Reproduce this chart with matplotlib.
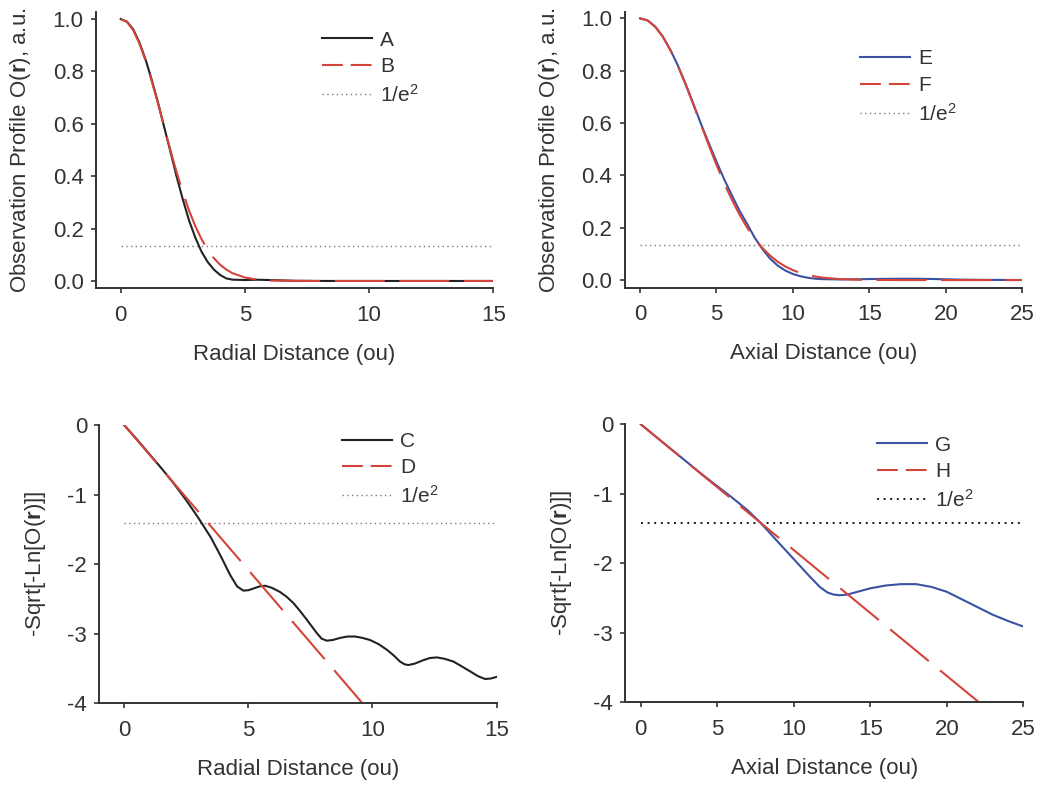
import matplotlib
matplotlib.use("Agg")
import matplotlib.pyplot as plt
from matplotlib.lines import Line2D
from matplotlib.ticker import FormatStrFormatter, MultipleLocator

plt.rcParams['font.family'] = ['Liberation Sans', 'DejaVu Sans']
plt.rcParams['mathtext.fontset'] = 'custom'
plt.rcParams['mathtext.rm'] = 'Liberation Sans'
plt.rcParams['mathtext.it'] = 'Liberation Sans:italic'
plt.rcParams['mathtext.bf'] = 'Liberation Sans:bold'
plt.rcParams['axes.unicode_minus'] = False

# radial profiles (top left)
radial_x = [0, 0.25, 0.5, 0.75, 1.0, 1.25, 1.5, 1.75, 2.0, 2.25, 2.5, 2.75, 3.0,
            3.25, 3.5, 3.75, 4.0, 4.25, 4.5, 5.0, 5.5, 6.0, 7.0, 8.0, 9.0, 10.0,
            11.0, 12.0, 13.0, 14.0, 15.0]
profile_a = [1.0, 0.990, 0.961, 0.911, 0.845, 0.767, 0.681, 0.587, 0.494, 0.398,
             0.311, 0.231, 0.166, 0.112, 0.0725, 0.0436, 0.023, 0.0098, 0.005,
             0.0036, 0.0048, 0.0035, 0.0008, 0.0001, 0.0, 0.0, 0.0, 0.0, 0.0, 0.0, 0.0]
profile_b = [1.0, 0.989, 0.958, 0.907, 0.841, 0.762, 0.677, 0.588, 0.499, 0.415,
             0.338, 0.269, 0.210, 0.160, 0.119, 0.087, 0.062, 0.0434, 0.0297,
             0.0130, 0.0052, 0.0019, 0.0002, 0.0, 0.0, 0.0, 0.0, 0.0, 0.0, 0.0, 0.0]

# axial profiles (top right)
axial_x = [0, 0.5, 1, 1.5, 2, 2.5, 3, 3.5, 4, 4.5, 5, 5.5, 6, 6.5, 7, 7.5, 8, 8.5,
           9, 9.5, 10, 10.5, 11, 11.5, 12, 13, 14, 15, 16, 17, 18, 19, 20, 21,
           22, 23, 24, 25]
profile_e = [1.0, 0.992, 0.968, 0.930, 0.878, 0.817, 0.747, 0.672, 0.595, 0.523,
             0.453, 0.386, 0.325, 0.266, 0.215, 0.162, 0.119, 0.0824, 0.0556,
             0.0364, 0.0232, 0.0144, 0.0086, 0.0050, 0.0033, 0.0024, 0.0029,
             0.0038, 0.0046, 0.0050, 0.0050, 0.0042, 0.0030, 0.0017, 0.0010,
             0.0006, 0.0003, 0.0002]
profile_f = [1.0, 0.992, 0.968, 0.929, 0.877, 0.815, 0.745, 0.669, 0.592, 0.515,
             0.441, 0.371, 0.308, 0.251, 0.201, 0.158, 0.123, 0.0938, 0.0703,
             0.0520, 0.0378, 0.0270, 0.0190, 0.0131, 0.0089, 0.0039, 0.0016,
             0.0006, 0.0002, 0.0, 0.0, 0.0, 0.0, 0.0, 0.0, 0.0, 0.0, 0.0]

# linearised radial profiles (bottom left)
curve_c_x = [0, 0.5, 1.0, 1.5, 2.0, 2.5, 3.0, 3.5, 3.9, 4.27, 4.55, 4.8, 5.0, 5.21,
             5.45, 5.68, 5.95, 6.28, 6.55, 6.82, 7.1, 7.36, 7.76, 7.95, 8.16, 8.4,
             8.7, 9.0, 9.3, 9.6, 9.9, 10.25, 10.58, 10.85, 11.11, 11.3, 11.45,
             11.7, 12.05, 12.3, 12.59, 12.9, 13.26, 13.6, 13.93, 14.25, 14.53,
             14.75, 15.0]
curve_c = [0, -0.2, -0.41, -0.62, -0.84, -1.08, -1.34, -1.62, -1.89, -2.155,
           -2.32, -2.38, -2.375, -2.35, -2.32, -2.31, -2.34, -2.40, -2.47, -2.56,
           -2.68, -2.80, -2.99, -3.07, -3.10, -3.09, -3.06, -3.04, -3.04, -3.06,
           -3.09, -3.15, -3.23, -3.31, -3.40, -3.44, -3.45, -3.43, -3.38, -3.35,
           -3.34, -3.36, -3.40, -3.47, -3.54, -3.61, -3.65, -3.645, -3.62]
line_d_x = [0, 9.6]
line_d = [0, -4.0]

# linearised axial profiles (bottom right)
curve_g_x = [0, 1, 2, 3, 4, 5, 6, 7, 7.8, 9, 10, 11, 11.7, 12.2, 12.6, 13, 13.5,
             14, 14.5, 15, 16, 17, 17.5, 18, 19, 20, 21, 22, 23, 24, 25]
curve_g = [0, -0.18, -0.36, -0.54, -0.72, -0.89, -1.06, -1.24, -1.41, -1.70,
           -1.94, -2.18, -2.34, -2.42, -2.45, -2.46, -2.45, -2.42, -2.39, -2.36,
           -2.32, -2.30, -2.30, -2.30, -2.34, -2.41, -2.52, -2.63, -2.74, -2.83,
           -2.91]
line_h_x = [0, 22.1]
line_h = [0, -4.0]

inv_e2 = 0.135        # 1/e^2 level on the profile scale
inv_e2_lin = -1.414   # same level after -sqrt(-ln(.))

BLACK = '#222222'
RED = '#d4443a'
BLUE = '#3b52a0'
GRAY = '#7a7a7a'
TXT = '#333333'

LW = 1.5
DASH = (24, 7)
DASH_KEY = (10, 3.8)
DOT = (0, (1, 2.4))
TICK_FS = 16
LABEL_FS = 16


def style_axes(ax, xlim, ylim, xmajor):
    ax.set_xlim(*xlim)
    ax.set_ylim(*ylim)
    for side in ('top', 'right'):
        ax.spines[side].set_visible(False)
    for side in ('left', 'bottom'):
        ax.spines[side].set_linewidth(1.4)
        ax.spines[side].set_color(TXT)
    ax.xaxis.set_major_locator(MultipleLocator(xmajor))
    ax.tick_params(axis='both', direction='out', length=3.8, width=1.2,
                   color=TXT, labelcolor=TXT, labelsize=TICK_FS)
    ax.tick_params(axis='x', pad=8)
    ax.tick_params(axis='y', pad=5)


def add_key(ax, solid_color, names, dot_color, dot_lw, anchor):
    handles = [
        Line2D([], [], color=solid_color, lw=LW),
        Line2D([], [], color=RED, lw=LW, dashes=DASH_KEY),
        Line2D([], [], color=dot_color, lw=dot_lw, linestyle=DOT),
    ]
    ax.legend(handles, names + ['1/e$^2$'], loc='center left',
              bbox_to_anchor=anchor, bbox_transform=ax.figure.transFigure,
              frameon=False, borderpad=0, borderaxespad=0, fontsize=15,
              handlelength=2.4, handletextpad=0.4, labelspacing=0.36,
              labelcolor=TXT)


fig = plt.figure(figsize=(10.37, 7.86), dpi=100)

ax1 = fig.add_axes([0.0925, 0.6332, 0.3832, 0.3519])
ax2 = fig.add_axes([0.6024, 0.6337, 0.3834, 0.3513])
ax3 = fig.add_axes([0.0957, 0.1052, 0.3832, 0.3541])
ax4 = fig.add_axes([0.6031, 0.1065, 0.3837, 0.3537])

profile_label = r'Observation Profile O($\mathbf{r}$), a.u.'
lin_label = r'-Sqrt[-Ln[O($\mathbf{r}$)]]'

# top left: radial profiles
ax1.plot(radial_x, [inv_e2 for _ in radial_x], color=GRAY, lw=1.0, linestyle=DOT)
ax1.plot(radial_x, profile_a, color=BLACK, lw=LW)
ax1.plot(radial_x, profile_b, color=RED, lw=LW, dashes=DASH)
style_axes(ax1, (-1, 15), (-0.028, 1.028), 5)
ax1.yaxis.set_major_locator(MultipleLocator(0.2))
ax1.yaxis.set_major_formatter(FormatStrFormatter('%.1f'))
ax1.set_xlabel('Radial Distance (ou)', fontsize=LABEL_FS, color=TXT, labelpad=13)
ax1.set_ylabel(profile_label, fontsize=LABEL_FS, color=TXT, labelpad=14)
add_key(ax1, BLACK, ['A', 'B'], GRAY, 1.0, (0.3102, 0.9135))

# top right: axial profiles
ax2.plot(axial_x, [inv_e2 for _ in axial_x], color=GRAY, lw=1.0, linestyle=DOT)
ax2.plot(axial_x, profile_e, color=BLUE, lw=LW)
ax2.plot(axial_x, profile_f, color=RED, lw=LW, dashes=DASH)
style_axes(ax2, (-1, 25), (-0.03, 1.025), 5)
ax2.yaxis.set_major_locator(MultipleLocator(0.2))
ax2.yaxis.set_major_formatter(FormatStrFormatter('%.1f'))
ax2.set_xlabel('Axial Distance (ou)', fontsize=LABEL_FS, color=TXT, labelpad=13)
ax2.set_ylabel(profile_label, fontsize=LABEL_FS, color=TXT, labelpad=14)
add_key(ax2, BLUE, ['E', 'F'], GRAY, 1.0, (0.8293, 0.8895))

# bottom left: linearised radial
ax3.plot([0, 15], [inv_e2_lin, inv_e2_lin], color=GRAY, lw=1.0, linestyle=DOT)
ax3.plot(curve_c_x, curve_c, color=BLACK, lw=LW)
ax3.plot(line_d_x, line_d, color=RED, lw=LW, dashes=DASH)
style_axes(ax3, (-1, 15), (-4, 0), 5)
ax3.yaxis.set_major_locator(MultipleLocator(1))
ax3.yaxis.set_major_formatter(FormatStrFormatter('%d'))
ax3.set_xlabel('Radial Distance (ou)', fontsize=LABEL_FS, color=TXT, labelpad=13)
ax3.set_ylabel(lin_label, fontsize=LABEL_FS, color=TXT, labelpad=14)
add_key(ax3, BLACK, ['C', 'D'], GRAY, 1.0, (0.3295, 0.4030))

# bottom right: linearised axial
ax4.plot([0, 25], [inv_e2_lin, inv_e2_lin], color='#1a1a1a', lw=1.4, linestyle=DOT)
ax4.plot(curve_g_x, curve_g, color=BLUE, lw=LW)
ax4.plot(line_h_x, line_h, color=RED, lw=LW, dashes=DASH)
style_axes(ax4, (-1, 25), (-4, 0), 5)
ax4.yaxis.set_major_locator(MultipleLocator(1))
ax4.yaxis.set_major_formatter(FormatStrFormatter('%d'))
ax4.set_xlabel('Axial Distance (ou)', fontsize=LABEL_FS, color=TXT, labelpad=13)
ax4.set_ylabel(lin_label, fontsize=LABEL_FS, color=TXT, labelpad=14)
add_key(ax4, BLUE, ['G', 'H'], '#1a1a1a', 1.4, (0.8454, 0.3980))

fig.savefig('out.png', dpi=100)
